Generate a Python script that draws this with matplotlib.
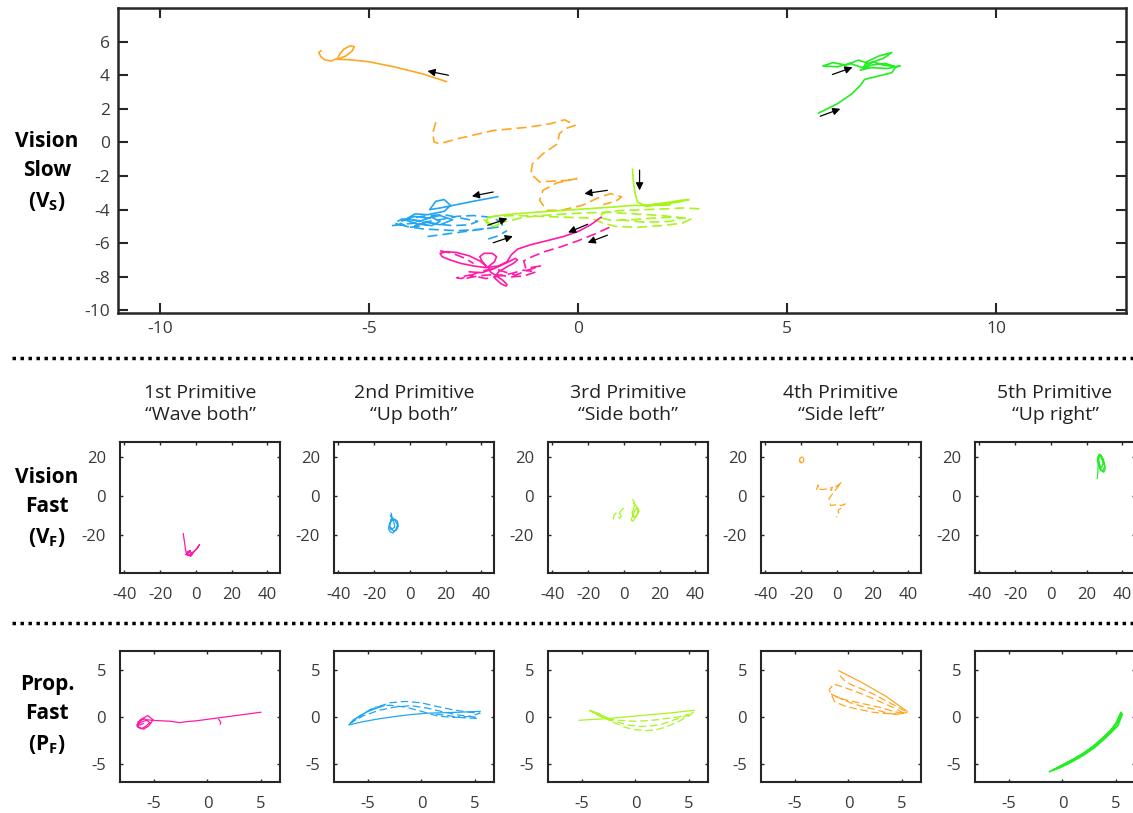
import matplotlib
matplotlib.use("Agg")
import matplotlib.pyplot as plt
from matplotlib.lines import Line2D

plt.rcParams['font.family'] = ['Open Sans', 'DejaVu Sans']
plt.rcParams['mathtext.fontset'] = 'custom'
plt.rcParams['mathtext.rm'] = 'Open Sans'
plt.rcParams['mathtext.bf'] = 'Open Sans:bold'
plt.rcParams['axes.unicode_minus'] = False

# ---------------- colours ----------------
C_PINK = '#FF1AA8'
C_BLUE = '#22A6F2'
C_LIME = '#A8F51E'
C_ORANGE = '#FFA623'
C_GREEN = '#22EE22'

# ---------------- top panel (Vision Slow) data ----------------
vs_orange_solid_x = [-3.15, -3.7, -4.4, -5.0, -5.45, -5.75, -5.55, -5.4, -5.35, -5.45, -5.6, -5.7, -5.75,
                     -5.9, -6.05, -6.15, -6.2, -6.15]
vs_orange_solid_y = [3.62, 4.07, 4.5, 4.8, 4.92, 4.95, 5.15, 5.45, 5.7, 5.75, 5.55, 5.25, 5.0, 4.85, 4.9,
                     5.1, 5.35, 5.45]
vs_orange_dash_x = [-3.4, -3.48, -3.44, -3.31, -2.88, -2.03, -1.18, -0.67, -0.32, -0.07, -0.32, -0.45, -0.49,
                    -0.84, -1.09, -1.13, -0.92, -0.6, -0.2, -0.03, -0.5, -0.84, -0.92, -0.75, -0.41, 0.1, 0.53,
                    0.78, 1.04, 0.9, 0.6]
vs_orange_dash_y = [1.21, 0.51, 0.02, -0.08, 0.22, 0.71, 0.91, 1.11, 1.35, 1.01, 0.81, 0.51, -0.08, -0.67,
                    -1.27, -1.86, -2.35, -2.3, -2.25, -2.15, -2.4, -2.85, -3.44, -4.04, -4.04, -3.74, -3.24,
                    -3.05, -3.24, -3.5, -3.7]

vs_blue_solid_x = [-1.92, -2.5, -3.0, -3.3, -3.55, -3.4, -3.2, -3.05, -3.2, -3.6, -3.9, -4.1, -3.8, -3.5, -3.3,
                   -3.5, -3.85, -4.15, -3.9, -3.6, -3.3, -3.0, -3.3, -3.6, -3.9]
vs_blue_solid_y = [-3.23, -3.5, -3.75, -3.9, -4.0, -3.5, -3.4, -3.75, -4.1, -4.3, -4.25, -4.55, -4.7, -4.45,
                   -4.7, -4.95, -4.85, -4.6, -4.4, -4.5, -4.35, -4.6, -4.9, -4.75, -4.95]
vs_blue_dash_x = [-4.45, -4.1, -3.7, -3.3, -2.9, -2.5, -2.1, -1.85, -1.8, -2.1, -2.5, -2.9, -3.3, -3.7, -4.1,
                  -4.3, -4.0, -3.6, -3.2, -2.8, -2.4, -2.6, -3.0, -3.4, -3.8, -4.2, -4.4, -4.0, -3.6]
vs_blue_dash_y = [-4.95, -4.85, -4.75, -4.6, -4.4, -4.35, -4.45, -4.7, -5.0, -5.1, -5.2, -5.25, -5.2, -5.15,
                  -5.0, -4.75, -4.5, -4.35, -4.3, -4.5, -4.7, -4.9, -4.95, -4.85, -4.65, -4.55, -4.8, -5.05, -4.9]
vs_blue_tail1_x = [-3.6, -3.0, -2.4, -2.1]
vs_blue_tail1_y = [-5.6, -5.4, -5.2, -5.1]
vs_blue_tail2_x = [-2.15, -1.9, -1.7]
vs_blue_tail2_y = [-5.75, -5.55, -5.25]

vs_lime_solid_x = [1.3, 1.32, 1.36, 1.42, 1.6, 1.9, 2.2, 2.45, 2.65, 2.4, 2.1, 1.8, 1.6, 1.9, 2.2, 1.8, 1.3,
                   0.8, 0.2, -0.4, -1.0, -1.5, -1.9, -2.15, -2.2, -2.05, -1.9]
vs_lime_solid_y = [-1.6, -2.3, -3.0, -3.55, -3.75, -3.65, -3.55, -3.45, -3.4, -3.55, -3.65, -3.7, -3.8, -3.7,
                   -3.7, -3.75, -3.75, -3.85, -3.95, -4.05, -4.15, -4.25, -4.35, -4.45, -4.75, -5.0, -4.9]
vs_lime_dash_x = [2.9, 2.5, 2.1, 1.6, 1.0, 0.6, 0.5, 0.8, 1.3, 1.8, 2.3, 2.7, 2.5, 2.0, 1.4, 0.9, 0.6, 0.3,
                  -0.3, -0.9, -1.5, -2.0, -2.25, -2.1, -1.7, -1.3, -0.6, 0.1, 0.7, 1.3, 2.0, 2.5, 2.2, 1.6, 1.0]
vs_lime_dash_y = [-3.95, -3.9, -3.95, -4.0, -4.05, -4.2, -4.45, -4.65, -4.6, -4.5, -4.45, -4.55, -4.8, -4.95,
                  -5.05, -5.0, -4.8, -4.5, -4.45, -4.4, -4.35, -4.4, -4.6, -4.85, -4.7, -4.45, -4.3, -4.2,
                  -4.15, -4.25, -4.35, -4.5, -4.7, -4.75, -4.6]

vs_pink_solid_x = [0.55, 0.3, 0.0, -0.35, -0.75, -1.15, -1.45, -1.6, -1.7, -1.9, -2.2, -2.5, -2.8, -3.05, -3.25,
                   -3.3, -3.15, -2.9, -2.6, -2.35, -2.2, -2.3, -2.35, -2.25, -2.05, -1.95, -2.0, -2.15, -2.1,
                   -1.95, -1.8, -1.7, -1.72, -1.85, -2.0, -1.9, -1.7, -1.55, -1.45, -1.5, -1.7, -2.0, -2.3, -2.6]
vs_pink_solid_y = [-4.45, -4.9, -5.3, -5.6, -5.85, -6.1, -6.35, -6.7, -7.1, -7.35, -7.45, -7.35, -7.2, -7.0,
                   -6.8, -6.6, -6.5, -6.55, -6.75, -7.05, -7.35, -7.05, -6.8, -6.6, -6.6, -6.8, -7.1, -7.4,
                   -7.7, -7.95, -8.2, -8.45, -8.55, -8.4, -8.05, -7.7, -7.4, -7.2, -7.0, -6.9, -7.15, -7.5,
                   -7.75, -7.7]
vs_pink_dash_x = [0.75, 0.4, 0.0, -0.4, -0.8, -1.1, -1.3, -1.25, -0.9, -1.2, -1.5, -1.7, -2.0, -2.3, -2.55,
                  -2.8, -2.9, -2.6, -2.2, -1.9, -1.6, -1.3, -1.0, -1.3, -1.6, -2.0, -2.4, -2.7]
vs_pink_dash_y = [-5.05, -5.45, -5.85, -6.2, -6.5, -6.8, -7.05, -7.5, -7.35, -7.6, -7.9, -7.75, -7.5, -7.65,
                  -7.9, -8.1, -8.05, -7.9, -8.1, -7.95, -7.8, -7.6, -7.7, -7.95, -8.0, -7.85, -7.95, -8.1]
vs_pink_dash2_x = [-3.3, -3.0, -2.7, -2.5]
vs_pink_dash2_y = [-6.45, -6.6, -6.9, -7.2]

vs_green_solid_x = [5.75, 6.2, 6.55, 6.75, 6.85, 7.1, 7.5, 7.6, 7.35, 7.0, 6.8, 6.9, 7.2, 7.5, 7.3, 6.95, 6.7,
                    6.4, 6.1, 5.85, 6.2, 6.5, 6.8, 7.05, 7.3, 7.6, 7.7, 7.4, 7.0, 6.75]
vs_green_solid_y = [1.75, 2.3, 2.9, 3.4, 3.75, 3.9, 4.15, 4.5, 4.7, 4.6, 4.35, 4.8, 5.15, 5.35, 5.0, 4.7, 4.9,
                    4.6, 4.75, 4.55, 4.5, 4.7, 4.45, 4.8, 4.6, 4.5, 4.55, 4.4, 4.45, 4.3]

# direction arrows: (x_from, y_from, x_to, y_to)
vs_arrows = [(-3.1, 4.0, -3.6, 4.25),
             (-2.03, -2.95, -2.54, -3.2),
             (0.7, -2.85, 0.15, -3.05),
             (1.47, -1.65, 1.47, -2.85),
             (-2.16, -4.93, -1.69, -4.53),
             (-2.03, -5.97, -1.56, -5.58),
             (0.23, -4.87, -0.24, -5.36),
             (0.7, -5.52, 0.23, -5.97),
             (6.08, 4.04, 6.56, 4.47),
             (5.79, 1.56, 6.27, 2.0)]

vs_xticks = [-10, -5, 0, 5, 10]
vs_yticks = [-10, -8, -6, -4, -2, 0, 2, 4, 6]

# ---------------- middle row (Vision Fast) data ----------------
titles = ['1st Primitive\n\u201cWave both\u201d', '2nd Primitive\n\u201cUp both\u201d',
          '3rd Primitive\n\u201cSide both\u201d', '4th Primitive\n\u201cSide left\u201d',
          '5th Primitive\n\u201cUp right\u201d']

vf_pink_x = [-7.1, -6.7, -6.2, -5.9, -5.5, -4.5, -3.0, -4.8, -6.0, -4.0, -2.0, -3.5, -5.0, -3.0, -1.0, 0.5,
             1.9, 1.0, -0.5, -2.0, -3.5, -2.5]
vf_pink_y = [-19.4, -22.0, -25.0, -27.5, -29.0, -28.5, -28.0, -29.5, -30.0, -30.5, -29.5, -28.5, -29.8, -31.0,
             -28.5, -27.0, -25.0, -26.5, -28.0, -29.0, -30.0, -30.5]
vf_blue_x = [-10.5, -10.0, -10.8, -11.5, -11.0, -9.0, -7.5, -6.5, -7.0, -8.5, -10.0, -11.5, -12.0, -11.0, -9.5,
             -8.0, -7.0, -8.0, -9.5, -10.5, -11.5, -10.0, -8.5, -9.0, -10.5, -11.0]
vf_blue_y = [-9.0, -11.0, -13.0, -15.0, -17.0, -18.0, -17.5, -15.5, -13.0, -12.0, -12.5, -14.5, -17.0, -18.5,
             -19.0, -17.5, -15.0, -13.0, -11.5, -12.0, -15.5, -17.0, -16.0, -13.5, -11.0, -10.0]
vf_lime_solid_x = [5.0, 6.0, 5.5, 4.5, 5.5, 7.0, 8.5, 7.5, 6.0, 5.0, 4.0, 5.0, 6.5, 8.0, 7.0, 5.5]
vf_lime_solid_y = [-2.0, -4.0, -6.5, -9.0, -11.0, -10.0, -8.0, -6.0, -7.5, -10.0, -12.5, -13.0, -11.0, -8.5,
                   -5.5, -4.0]
vf_lime_dash_x = [-6.0, -5.5, -4.0, -2.5, -1.5, -2.5, -3.5, -2.0, -0.5, 1.0]
vf_lime_dash_y = [-12.0, -10.0, -8.5, -9.0, -10.5, -11.5, -10.5, -8.0, -6.5, -6.0]
vf_orange_solid_x = [-21.0, -20.0, -18.8, -18.5, -19.3, -20.5, -21.0, -20.2]
vf_orange_solid_y = [17.5, 16.8, 17.3, 18.8, 19.8, 19.5, 18.2, 17.2]
vf_orange_dash_x = [-11.5, -10.5, -11.0, -8.0, -5.0, -2.5, -3.5, 1.5, 2.5, -4.5, -4.0, -3.5, 0.0, 2.5, 4.5, 2.0,
                    0.5, 1.0, -0.5, 0.0]
vf_orange_dash_y = [3.0, 5.5, 3.5, 3.2, 3.6, 4.3, 2.8, 6.0, 7.0, -1.5, -3.5, -5.0, -4.5, -5.0, -4.2, -6.5, -7.5,
                    -8.5, -10.0, -11.0]
vf_green_x = [25.9, 26.2, 26.4, 26.0, 27.0, 28.5, 29.8, 30.4, 29.5, 28.0, 27.0, 26.5, 27.5, 29.0, 30.0, 29.0,
              27.5, 26.8, 26.5, 27.8, 29.2, 28.0, 26.7]
vf_green_y = [9.0, 12.0, 15.5, 19.0, 21.4, 20.0, 17.0, 13.5, 12.0, 13.0, 15.5, 18.5, 21.0, 19.0, 15.0, 12.5,
              13.5, 16.5, 20.0, 20.5, 16.5, 14.0, 17.5]
vf_xticks = [-40, -20, 0, 20, 40]
vf_yticks = [-20, 0, 20]

# ---------------- bottom row (Prop. Fast) data ----------------
pf_pink_x = [5.0, 4.0, 3.0, 2.0, 1.0, 0.0, -1.0, -2.0, -2.6, -3.5, -4.5, -5.2, -5.6, -6.2, -6.6, -6.5, -6.2,
             -5.8, -5.4, -5.9, -6.5, -6.6, -6.0, -5.5, -5.1, -5.6, -6.3, -6.5, -6.0]
pf_pink_y = [0.5, 0.35, 0.2, 0.05, -0.1, -0.25, -0.4, -0.5, -0.6, -0.45, -0.4, -0.35, -0.3, -0.55, -0.8, -1.1,
             -1.25, -1.0, -0.6, -0.2, -0.5, -1.0, -1.3, -0.95, -0.3, 0.15, -0.3, -0.9, -0.7]
pf_pink_hook_x = [1.05, 1.25, 1.2]
pf_pink_hook_y = [-0.25, -0.55, -0.75]
pf_blue_solid_x = [-3.5, -5.0, -6.4, -6.8, -5.5, -4.0, -2.5, -1.0, 0.5, 2.0, 3.5, 5.5]
pf_blue_solid_y = [1.2, 0.6, -0.3, -0.85, -0.5, -0.2, 0.05, 0.25, 0.4, 0.45, 0.5, 0.6]
pf_blue_dash_x = [-6.7, -5.5, -4.5, -3.0, -1.5, 0.0, 1.5, 3.0, 4.5, 5.5, 4.5, 3.0, 1.5, 0.0, -1.5, -3.0, -4.5,
                  -5.8, -6.6, -5.5, -4.0, -2.5, -1.0, 0.5, 2.0, 3.5, 5.0, 5.3, 4.0, 2.5, 1.0]
pf_blue_dash_y = [-0.7, 0.3, 0.9, 1.5, 1.65, 1.5, 1.1, 0.75, 0.5, 0.4, 0.05, -0.05, 0.1, 0.6, 1.05, 1.25, 1.0,
                  0.1, -0.6, 0.1, 0.7, 1.05, 1.2, 0.95, 0.55, 0.2, 0.0, -0.15, -0.1, 0.15, 0.35]
pf_lime_solid_x = [-5.3, -3.0, -1.0, 1.0, 3.0, 5.5]
pf_lime_solid_y = [-0.35, -0.2, 0.0, 0.2, 0.4, 0.7]
pf_lime_solid2_x = [-4.3, -3.5, -2.8, -2.2]
pf_lime_solid2_y = [0.7, 0.4, 0.0, -0.35]
pf_lime_dash_x = [-4.0, -3.0, -2.0, -1.0, 0.0, 1.0, 2.0, 3.0, 4.0, 5.0, 5.4, 4.5, 3.5, 2.5, 1.5, 0.5, -0.5,
                  -1.5, -2.5, -3.5, -4.3, -3.0, -2.0, -1.0, 0.0, 1.0, 2.0, 3.0, 4.0, 5.0]
pf_lime_dash_y = [0.5, 0.0, -0.6, -1.1, -1.35, -1.45, -1.35, -1.0, -0.5, 0.1, 0.5, 0.0, -0.35, -0.75, -0.95,
                  -1.0, -0.9, -0.6, -0.3, 0.2, 0.7, -0.1, -0.3, -0.4, -0.45, -0.4, -0.3, -0.15, 0.0, 0.25]
pf_orange_solid_x = [-0.9, 0.5, 1.5, 2.5, 3.5, 4.5, 5.5]
pf_orange_solid_y = [4.9, 4.1, 3.5, 2.85, 2.2, 1.4, 0.6]
pf_orange_dash_x = [-0.8, -0.4, 0.3, 1.2, 2.2, 3.2, 4.2, 5.2, 5.6, 4.5, 3.4, 2.3, 1.2, 0.2, -0.8, -1.6, -0.6,
                    0.6, 1.8, 3.0, 4.2, 5.3, 4.4, 3.2, 2.0, 0.9, -0.3, -1.4, -1.8, -1.3, -0.2, 1.0, 2.3, 3.6, 4.8]
pf_orange_dash_y = [4.4, 3.9, 3.4, 3.0, 2.5, 1.9, 1.3, 0.7, 0.5, 0.25, 0.5, 0.85, 1.15, 1.5, 2.0, 2.4, 1.9, 1.6,
                    1.3, 1.0, 0.6, 0.3, 0.9, 1.5, 2.1, 2.6, 3.1, 3.5, 2.9, 1.6, 1.1, 0.8, 0.5, 0.35, 0.3]
pf_green_x = [-1.2, -0.3, 0.7, 1.8, 2.9, 3.8, 4.5, 5.0, 5.5, 5.3, 4.7, 4.0, 3.0, 2.0, 1.0, 0.0, -0.8, -0.2, 0.8,
              1.9, 3.0, 3.9, 4.6, 5.2, 5.6]
pf_green_y = [-5.8, -5.3, -4.7, -4.0, -3.1, -2.2, -1.45, -0.7, 0.5, -0.3, -1.3, -2.1, -3.1, -3.85, -4.55, -5.1,
              -5.6, -5.35, -4.8, -4.1, -3.25, -2.35, -1.6, -0.9, 0.3]
pf_xticks = [-5, 0, 5]
pf_yticks = [-5, 0, 5]

# ---------------- layout ----------------
W, H = 1133, 813
fig = plt.figure(figsize=(W / 100, H / 100), dpi=100)

SPINE = '#262626'
TICKLAB = '#3a3a3a'
DASH = (0, (6, 3))


def px_axes(left, top, width, height):
    return fig.add_axes([left / W, 1 - (top + height) / H, width / W, height / H])


def style(ax, lw, tlen, twid, fs, pad):
    for s in ax.spines.values():
        s.set_linewidth(lw)
        s.set_color(SPINE)
    ax.tick_params(direction='in', top=True, right=True, length=tlen, width=twid,
                   color=SPINE, labelcolor=TICKLAB, labelsize=fs, pad=pad)


# top panel
ax = px_axes(118, 8, 1008, 305)
lw_top = 1.2
ax.plot(vs_orange_solid_x, vs_orange_solid_y, color=C_ORANGE, lw=lw_top)
ax.plot(vs_orange_dash_x, vs_orange_dash_y, color=C_ORANGE, lw=lw_top, linestyle=DASH)
ax.plot(vs_blue_solid_x, vs_blue_solid_y, color=C_BLUE, lw=lw_top)
ax.plot(vs_blue_dash_x, vs_blue_dash_y, color=C_BLUE, lw=lw_top, linestyle=DASH)
ax.plot(vs_blue_tail1_x, vs_blue_tail1_y, color=C_BLUE, lw=lw_top, linestyle=DASH)
ax.plot(vs_blue_tail2_x, vs_blue_tail2_y, color=C_BLUE, lw=lw_top, linestyle=DASH)
ax.plot(vs_lime_solid_x, vs_lime_solid_y, color=C_LIME, lw=lw_top)
ax.plot(vs_lime_dash_x, vs_lime_dash_y, color=C_LIME, lw=lw_top, linestyle=DASH)
ax.plot(vs_pink_solid_x, vs_pink_solid_y, color=C_PINK, lw=lw_top)
ax.plot(vs_pink_dash_x, vs_pink_dash_y, color=C_PINK, lw=lw_top, linestyle=DASH)
ax.plot(vs_pink_dash2_x, vs_pink_dash2_y, color=C_PINK, lw=lw_top, linestyle=DASH)
ax.plot(vs_green_solid_x, vs_green_solid_y, color=C_GREEN, lw=lw_top)
for x0, y0, x1, y1 in vs_arrows:
    ax.annotate('', xy=(x1, y1), xytext=(x0, y0),
                arrowprops=dict(arrowstyle='-|>', color='black', lw=0.9, mutation_scale=11,
                                shrinkA=0, shrinkB=0))
ax.set_xlim(-11, 13.1)
ax.set_ylim(-10.15, 8)
ax.set_xticks(vs_xticks)
ax.set_yticks(vs_yticks)
style(ax, 1.8, 7, 1.5, 12.5, 6)

# middle & bottom small panels
lefts = [120, 334, 548, 761, 975]
pw, ph = 160, 131
lw_s = 0.9

mid_axes = [px_axes(l, 442, pw, ph) for l in lefts]
bot_axes = [px_axes(l, 651, pw, ph) for l in lefts]

a = mid_axes[0]
a.plot(vf_pink_x, vf_pink_y, color=C_PINK, lw=lw_s)
a = mid_axes[1]
a.plot(vf_blue_x, vf_blue_y, color=C_BLUE, lw=lw_s)
a = mid_axes[2]
a.plot(vf_lime_solid_x, vf_lime_solid_y, color=C_LIME, lw=lw_s)
a.plot(vf_lime_dash_x, vf_lime_dash_y, color=C_LIME, lw=lw_s, linestyle=DASH)
a = mid_axes[3]
a.plot(vf_orange_solid_x, vf_orange_solid_y, color=C_ORANGE, lw=lw_s)
a.plot(vf_orange_dash_x, vf_orange_dash_y, color=C_ORANGE, lw=lw_s, linestyle=DASH)
a = mid_axes[4]
a.plot(vf_green_x, vf_green_y, color=C_GREEN, lw=lw_s)

for a, t, l in zip(mid_axes, titles, lefts):
    a.set_xlim(-42.5, 47)
    a.set_ylim(-39.5, 27.5)
    a.set_xticks(vf_xticks)
    a.set_yticks(vf_yticks)
    style(a, 1.5, 2.5, 1.0, 12, 10)
    fig.text((l + pw / 2) / W, 1 - 404 / H, t, ha='center', va='center', fontsize=14,
             color='#222222', linespacing=1.35)

a = bot_axes[0]
a.plot(pf_pink_x, pf_pink_y, color=C_PINK, lw=lw_s)
a.plot(pf_pink_hook_x, pf_pink_hook_y, color=C_PINK, lw=lw_s)
a = bot_axes[1]
a.plot(pf_blue_solid_x, pf_blue_solid_y, color=C_BLUE, lw=lw_s)
a.plot(pf_blue_dash_x, pf_blue_dash_y, color=C_BLUE, lw=lw_s, linestyle=DASH)
a = bot_axes[2]
a.plot(pf_lime_solid_x, pf_lime_solid_y, color=C_LIME, lw=lw_s)
a.plot(pf_lime_solid2_x, pf_lime_solid2_y, color=C_LIME, lw=lw_s)
a.plot(pf_lime_dash_x, pf_lime_dash_y, color=C_LIME, lw=lw_s, linestyle=DASH)
a = bot_axes[3]
a.plot(pf_orange_solid_x, pf_orange_solid_y, color=C_ORANGE, lw=lw_s)
a.plot(pf_orange_dash_x, pf_orange_dash_y, color=C_ORANGE, lw=lw_s, linestyle=DASH)
a = bot_axes[4]
a.plot(pf_green_x, pf_green_y, color=C_GREEN, lw=1.3)

for a in bot_axes:
    a.set_xlim(-8.2, 6.8)
    a.set_ylim(-6.9, 7.0)
    a.set_xticks(pf_xticks)
    a.set_yticks(pf_yticks)
    style(a, 1.5, 2.5, 1.0, 12, 10)

# row labels
row_labels = ['Vision\nSlow\n(V$_\\mathbf{S}$)', 'Vision\nFast\n(V$_\\mathbf{F}$)',
              'Prop.\nFast\n(P$_\\mathbf{F}$)']
row_y = [172, 508, 715]
for lab, yy in zip(row_labels, row_y):
    fig.text(47 / W, 1 - yy / H, lab, ha='center', va='center', fontsize=15,
             fontweight='bold', color='black', linespacing=1.5)

# dotted separators
for yy in [358, 623]:
    fig.add_artist(Line2D([12 / W, 1.0], [1 - yy / H, 1 - yy / H], transform=fig.transFigure,
                          color='black', lw=2.5, linestyle=(0, (1, 1.3))))

fig.savefig('out.png', dpi=100)
